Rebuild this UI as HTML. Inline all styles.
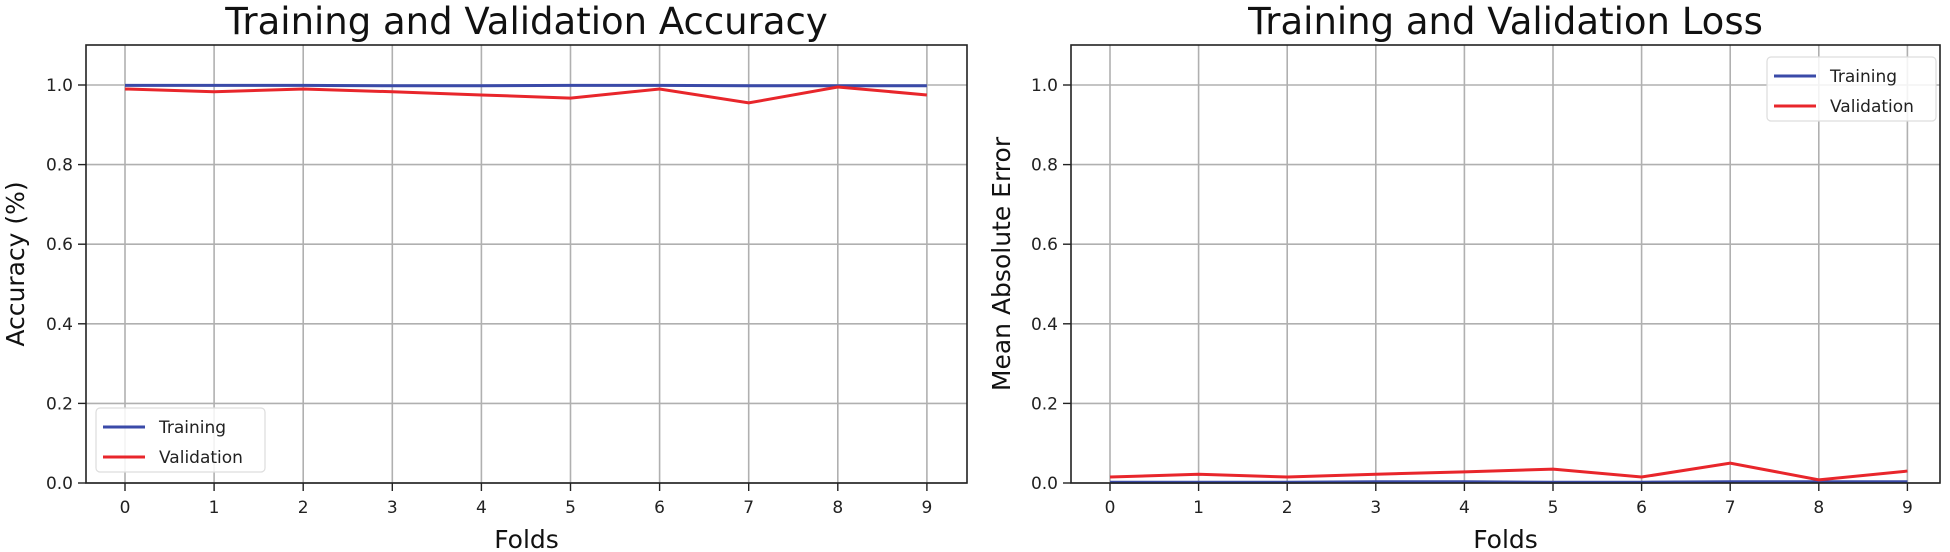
<!DOCTYPE html>
<html><head><meta charset="utf-8"><style>
html,body{margin:0;padding:0;background:#fff;}
svg{display:block;font-family:"DejaVu Sans","Liberation Sans",sans-serif;}
</style></head><body>
<svg id="c" width="1950" height="552"></svg>
<script>
const folds = [0,1,2,3,4,5,6,7,8,9];
const accTrain = [0.999,0.999,0.999,0.998,0.998,0.999,0.999,0.998,0.998,0.998];
const accVal = [0.99,0.983,0.99,0.983,0.975,0.967,0.99,0.955,0.995,0.975];
const lossTrain = [0.002,0.002,0.002,0.003,0.003,0.002,0.002,0.003,0.003,0.003];
const lossVal = [0.015,0.022,0.015,0.022,0.028,0.035,0.015,0.05,0.008,0.03];
const yTicks = ["0.0","0.2","0.4","0.6","0.8","1.0"];
const NS="http://www.w3.org/2000/svg";
const svg=document.getElementById('c');
function mk(tag,attrs,parent){const e=document.createElementNS(NS,tag);for(const k in attrs)e.setAttribute(k,attrs[k]);(parent||svg).appendChild(e);return e;}
function panel(o){
  const g=mk('g',{});
  
  
  const X=i=>o.x0+i*o.dx, Y=v=>o.bottom-v*(o.bottom-o.y1)/1.0;
  // grid
  folds.forEach(f=>{const l=mk('line',{x1:X(f),x2:X(f),y1:o.top,y2:o.bottom,stroke:'#b0b0b0','stroke-width':1.6},g);
    });
  yTicks.forEach(t=>{const v=parseFloat(t);const l=mk('line',{x1:o.left,x2:o.right,y1:Y(v),y2:Y(v),stroke:'#b0b0b0','stroke-width':1.6},g);
    
    mk('line',{x1:o.left-8,x2:o.left,y1:Y(v),y2:Y(v),stroke:'#222','stroke-width':1.4},g);
    const tx=mk('text',{x:o.left-13,y:Y(v)+6,'text-anchor':'end','font-size':17,fill:'#222'},g);tx.textContent=t;
    });
  folds.forEach(f=>{mk('line',{x1:X(f),x2:X(f),y1:o.bottom,y2:o.bottom+8,stroke:'#222','stroke-width':1.4},g);
    const tx=mk('text',{x:X(f),y:o.bottom+30,'text-anchor':'middle','font-size':17,fill:'#222'},g);tx.textContent=f;
    });
  // lines
  const pts=a=>a.map((v,i)=>X(folds[i])+','+Y(v)).join(' ');
  const lt=mk('polyline',{points:pts(o.train),fill:'none',stroke:'#3a4aa8','stroke-width':3},g);
  
  const lv=mk('polyline',{points:pts(o.val),fill:'none',stroke:'#e8262b','stroke-width':3},g);
  
  // frame
  const fr=mk('rect',{x:o.left,y:o.top,width:o.right-o.left,height:o.bottom-o.top,fill:'none',stroke:'#222','stroke-width':1.6},g);
  
  // titles
  const ti=mk('text',{x:(o.left+o.right)/2,y:34,'text-anchor':'middle','font-size':37,fill:'#111'},g);ti.textContent=o.title;
  
  const xl=mk('text',{x:(o.left+o.right)/2,y:548,'text-anchor':'middle','font-size':25,fill:'#111'},g);xl.textContent='Folds';
  
  const yl=mk('text',{x:0,y:0,'text-anchor':'middle','font-size':25,fill:'#111',transform:`translate(${o.ylx},${(o.top+o.bottom)/2}) rotate(-90)`},g);yl.textContent=o.ylabel;
  
  // legend
  const lg=mk('g',{},g);
  mk('rect',{x:o.lx,y:o.ly,width:169,height:64,rx:4,fill:'#fff','fill-opacity':0.85,stroke:'#ddd','stroke-width':1.2},lg);
  [['Training','#3a4aa8'],['Validation','#e8262b']].forEach((e,i)=>{
    const eg=mk('g',{},lg);
    const yy=o.ly+19+i*30;
    mk('line',{x1:o.lx+7,x2:o.lx+49,y1:yy,y2:yy,stroke:e[1],'stroke-width':3},eg);
    const t=mk('text',{x:o.lx+63,y:yy+6,'font-size':17,fill:'#222'},eg);t.textContent=e[0];});
}
panel({name:'accuracy-chart',left:86,right:967,top:45,bottom:483,y1:85,x0:125,dx:89.1,train:accTrain,val:accVal,
  title:'Training and Validation Accuracy',ylabel:'Accuracy (%)',ylx:24,lx:96,ly:408});
panel({name:'loss-chart',left:1071,right:1940,top:45,bottom:483,y1:85,x0:1110,dx:88.6,train:lossTrain,val:lossVal,
  title:'Training and Validation Loss',ylabel:'Mean Absolute Error',ylx:1010,lx:1767,ly:57});
</script>
</body></html>
